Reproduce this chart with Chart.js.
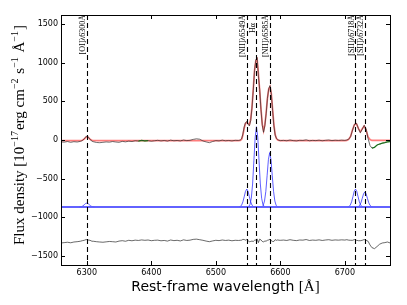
<!DOCTYPE html>
<html><head><meta charset="utf-8">
<script src="https://cdn.jsdelivr.net/npm/chart.js@4/dist/chart.umd.min.js"></script>
<style>html,body{margin:0;padding:0;background:#fff}canvas{display:block}</style>
</head><body>
<canvas id="c" width="407" height="305"></canvas>
<script>
// ---------- data ----------
const wavelength = [
  6260,6265,6270,6275,6280,6285,6290,
  6293,6296,6299,6302,6305,6308,
  6310,6315,6320,6325,6330,6335,6340,6345,6350,6355,6360,6365,6370,6375,6380,6385,6390,6395,
  6400,6405,6410,6415,6420,6425,6430,6435,6440,6445,6450,6455,6460,6465,6470,6475,6480,6485,6490,6495,
  6500,6505,6510,6515,6520,6525,6530,6535,
  6538,6540,6542,6544,6546,6548,6550,6552,6554,6556,6558,6560,6562,6564,6566,6568,6570,6572,6574,6576,
  6578,6580,6582,6584,6586,6588,6590,6592,6594,6596,6598,6600,
  6605,6610,6615,6620,6625,6630,6635,6640,6645,6650,6655,6660,6665,6670,6675,6680,6685,6690,6695,6700,
  6703,6706,6709,6712,6715,6718,6721,6724,6727,6730,6733,6736,6739,
  6742,6746,6750,6754,6758,6762,6766,6770
];
const observedFlux = [
  -25,-28,-20,-30,-22,-26,-18,
  -8,15,48,42,8,-15,
  -22,-32,-35,-30,-25,-28,-20,-26,-30,-18,-24,-15,-20,-10,-14,-5,-12,-8,
  -16,-10,-4,-12,-6,-14,-2,-10,-6,-12,0,-8,-4,8,15,10,-12,-25,-35,-20,
  -8,-12,-2,-10,-6,-12,-4,-6,
  0,15,80,170,225,238,205,182,250,410,640,900,1035,1068,830,655,395,190,100,185,
  340,540,665,705,595,385,185,62,20,5,-5,-8,
  -5,-10,0,-8,-12,-4,-6,2,-10,-5,-8,-2,-10,-4,0,-8,-3,-6,-2,-5,
  0,10,45,130,205,215,150,95,140,190,140,20,-72,
  -105,-95,-65,-52,-42,-34,-25,-20
];
const modelFlux = [
  -8,-8,-8,-8,-8,-8,-8,
  -4,12,36,36,10,-4,
  -8,-8,-8,-8,-8,-8,-8,-8,-8,-8,-8,-8,-8,-8,-8,-8,-8,-8,
  -8,-8,-8,-8,-8,-8,-8,-8,-8,-8,-8,-8,-8,-8,-8,-8,-8,-8,-8,-8,
  -8,-8,-8,-8,-8,-8,-8,-7,
  -5,10,65,155,215,228,212,200,265,420,655,900,1030,1050,860,640,400,205,120,195,
  350,540,660,690,600,400,200,70,20,0,-6,-8,
  -8,-8,-8,-8,-8,-8,-8,-8,-8,-8,-8,-8,-8,-8,-8,-8,-8,-8,-8,-8,
  -4,8,50,135,200,210,150,105,145,180,130,40,5,
  -6,-6,-6,-6,-6,-6,-6,-6
];
const residualFlux = [
  -1335,-1330,-1325,-1332,-1322,-1318,-1312,
  -1305,-1300,-1290,-1296,-1300,-1312,
  -1312,-1318,-1322,-1325,-1320,-1315,-1318,-1322,-1310,-1305,-1312,-1300,-1306,-1298,-1302,-1295,-1300,-1296,
  -1305,-1300,-1298,-1306,-1302,-1310,-1296,-1304,-1300,-1308,-1294,-1302,-1298,-1288,-1285,-1292,-1300,-1310,-1318,-1308,
  -1300,-1304,-1296,-1302,-1298,-1306,-1300,-1302,
  -1300,-1298,-1288,-1290,-1298,-1290,-1305,-1318,-1315,-1310,-1315,-1300,-1295,-1282,-1330,-1285,-1295,-1315,-1320,-1310,
  -1310,-1300,-1295,-1285,-1305,-1315,-1315,-1292,-1300,-1295,-1299,-1300,
  -1297,-1302,-1292,-1300,-1304,-1296,-1298,-1290,-1302,-1297,-1300,-1294,-1302,-1296,-1292,-1300,-1295,-1298,-1294,-1297,
  -1292,-1298,-1300,-1300,-1290,-1300,-1305,-1305,-1300,-1290,-1300,-1312,-1360,
  -1395,-1408,-1380,-1350,-1335,-1330,-1322,-1334
];
const maskedRanges = [[6378, 6396], [6740, 6770]];

const componentBaseline = -868;
const componentCenters = [6300, 6548, 6563, 6583.5, 6716.5, 6731];
const componentOffsets = [-12,-10,-8,-6,-4,-2,0,2,4,6,8,10,12];
const compOI     = [-868,-866,-863,-854,-839,-824,-818,-824,-839,-854,-863,-866,-868];
const compNII6549= [-866,-861,-843,-801,-735,-666,-636,-666,-735,-801,-843,-861,-866];
const compHalpha = [-861,-836,-755,-570,-270,37,172,37,-270,-570,-755,-836,-861];
const compNII6585= [-863,-846,-791,-666,-463,-255,-163,-255,-463,-666,-791,-846,-863];
const compSII6718= [-866,-861,-843,-801,-735,-666,-636,-666,-735,-801,-843,-861,-866];
const compSII6732= [-867,-862,-847,-812,-756,-698,-673,-698,-756,-812,-847,-862,-867];
const componentProfiles = [compOI, compNII6549, compHalpha, compNII6585, compSII6718, compSII6732];

const lineWavelengths = [6300.3, 6548.1, 6562.8, 6583.5, 6716.4, 6730.8];
const lineLabels = ['[OI]\u03bb6300\u00c5','[NII]\u03bb6549\u00c5','H\u03b1','[NII]\u03bb6585\u00c5','[SII]\u03bb6718\u00c5','[SII]\u03bb6732\u00c5'];

const xTicks = [6300, 6400, 6500, 6600, 6700];
const yTicks = [-1500, -1000, -500, 0, 500, 1000, 1500];
const xRange = [6260, 6770];
const yRange = [-1620, 1620];

// ---------- build datasets ----------
const pts = (xs, ys) => xs.map((x, i) => ({x: x, y: ys[i]}));
const inMask = x => maskedRanges.some(r => x >= r[0] && x <= r[1]);

const datasets = [];
datasets.push({data: pts(wavelength, observedFlux), borderColor: 'rgba(40,40,40,0.85)', borderWidth: 0.8});
datasets.push({data: wavelength.map((x, i) => ({x: x, y: inMask(x) ? observedFlux[i] : null})),
  borderColor: 'rgba(0,170,0,0.85)', borderWidth: 1.3, spanGaps: false});
datasets.push({data: pts(wavelength, modelFlux), borderColor: 'rgba(255,45,45,0.62)', borderWidth: 1.7});
datasets.push({data: [{x: xRange[0], y: componentBaseline}, {x: xRange[1], y: componentBaseline}],
  borderColor: 'rgba(90,90,255,0.95)', borderWidth: 2});
componentProfiles.forEach((prof, k) => {
  datasets.push({data: componentOffsets.map((o, i) => ({x: componentCenters[k] + o, y: prof[i]})),
    borderColor: 'rgba(40,40,255,0.75)', borderWidth: 1});
});
datasets.push({data: pts(wavelength, residualFlux), borderColor: 'rgba(20,20,20,0.8)', borderWidth: 0.8});
datasets.forEach(d => { d.pointRadius = 0; d.tension = 0; d.fill = false; });

// ---------- decorations plugin ----------
const deco = {
  id: 'deco',
  afterDatasetsDraw(chart) {
    const ctx = chart.ctx, a = chart.chartArea, xs = chart.scales.x, ys = chart.scales.y;
    ctx.save();
    // dashed emission line markers
    ctx.strokeStyle = '#000'; ctx.lineWidth = 1.1; ctx.setLineDash([5, 3]);
    lineWavelengths.forEach(w => {
      const px = Math.round(xs.getPixelForValue(w)) + 0.5;
      ctx.beginPath(); ctx.moveTo(px, a.top); ctx.lineTo(px, a.bottom); ctx.stroke();
    });
    ctx.setLineDash([]);
    // labels
    ctx.fillStyle = '#000';
    ctx.font = '8px "Liberation Serif"';
    ctx.textAlign = 'right'; ctx.textBaseline = 'alphabetic';
    lineWavelengths.forEach((w, i) => {
      const px = xs.getPixelForValue(w);
      const shift = lineLabels[i].length < 4 ? 8 : 0;
      ctx.save(); ctx.translate(px - 1.5, a.top + shift); ctx.rotate(-Math.PI / 2);
      ctx.fillText(lineLabels[i], 0, 0); ctx.restore();
    });
    // frame
    ctx.strokeStyle = '#000'; ctx.lineWidth = 1;
    ctx.strokeRect(Math.round(a.left) + 0.5, Math.round(a.top) + 0.5, Math.round(a.right - a.left), Math.round(a.bottom - a.top));
    // inward ticks
    ctx.beginPath();
    xTicks.forEach(t => {
      const px = Math.round(xs.getPixelForValue(t)) + 0.5;
      ctx.moveTo(px, a.bottom); ctx.lineTo(px, a.bottom - 4);
      ctx.moveTo(px, a.top); ctx.lineTo(px, a.top + 4);
    });
    yTicks.forEach(t => {
      const py = Math.round(ys.getPixelForValue(t)) + 0.5;
      ctx.moveTo(a.left, py); ctx.lineTo(a.left + 4, py);
      ctx.moveTo(a.right, py); ctx.lineTo(a.right - 4, py);
    });
    ctx.stroke();
    // x title
    ctx.textBaseline = 'middle'; ctx.textAlign = 'left';
    const t1 = 'Rest-frame wavelength ', t2 = '[\u00c5]';
    ctx.font = '14px "DejaVu Sans"'; const w1 = ctx.measureText(t1).width;
    ctx.font = '15px "Liberation Serif"'; const w2 = ctx.measureText(t2).width;
    let sx = (a.left + a.right) / 2 - (w1 + w2) / 2;
    ctx.font = '14px "DejaVu Sans"'; ctx.fillText(t1, sx, 287);
    ctx.font = '15px "Liberation Serif"'; ctx.fillText(t2, sx + w1, 287);
    // y title (rotated, with superscripts)
    const parts = [['Flux density [10', 0], ['\u221217', 1], ['erg cm', 0], ['\u22122', 1], [' s', 0], ['\u22121', 1], [' \u00c5', 0], ['\u22121', 1], [']', 0]];
    const fMain = '15px "Liberation Serif"', fSup = '10px "Liberation Serif"';
    let total = 0;
    parts.forEach(p => { ctx.font = p[1] ? fSup : fMain; total += ctx.measureText(p[0]).width + (p[1] ? 1 : 0); });
    ctx.save(); ctx.translate(24, (a.top + a.bottom) / 2 - 5); ctx.rotate(-Math.PI / 2);
    ctx.textBaseline = 'alphabetic';
    let cx = -total / 2;
    parts.forEach(p => {
      ctx.font = p[1] ? fSup : fMain;
      ctx.fillText(p[0], cx, p[1] ? -6 : 0);
      cx += ctx.measureText(p[0]).width + (p[1] ? 1 : 0);
    });
    ctx.restore();
    ctx.restore();
  }
};

new Chart(document.getElementById('c'), {
  type: 'line',
  data: {datasets: datasets},
  options: {
    responsive: false, devicePixelRatio: 1, animation: false,
    layout: {padding: {left: 0, right: 17, top: 15, bottom: 0}},
    plugins: {legend: {display: false}, tooltip: {enabled: false}},
    scales: {
      x: {type: 'linear', min: xRange[0], max: xRange[1],
        afterBuildTicks: s => { s.ticks = xTicks.map(v => ({value: v})); },
        afterFit: s => { s.height = 40; },
        grid: {display: false, drawTicks: false}, border: {display: false},
        ticks: {color: '#000', font: {family: 'DejaVu Sans', size: 8}, padding: 3, maxRotation: 0,
          callback: v => String(v)}},
      y: {type: 'linear', min: yRange[0], max: yRange[1],
        afterBuildTicks: s => { s.ticks = yTicks.map(v => ({value: v})); },
        afterFit: s => { s.width = 61; },
        grid: {display: false, drawTicks: false}, border: {display: false},
        ticks: {color: '#000', font: {family: 'DejaVu Sans', size: 8}, padding: 3,
          callback: v => String(v).replace('-', '\u2212')}}
    }
  },
  plugins: [deco]
});
</script>
</body></html>
